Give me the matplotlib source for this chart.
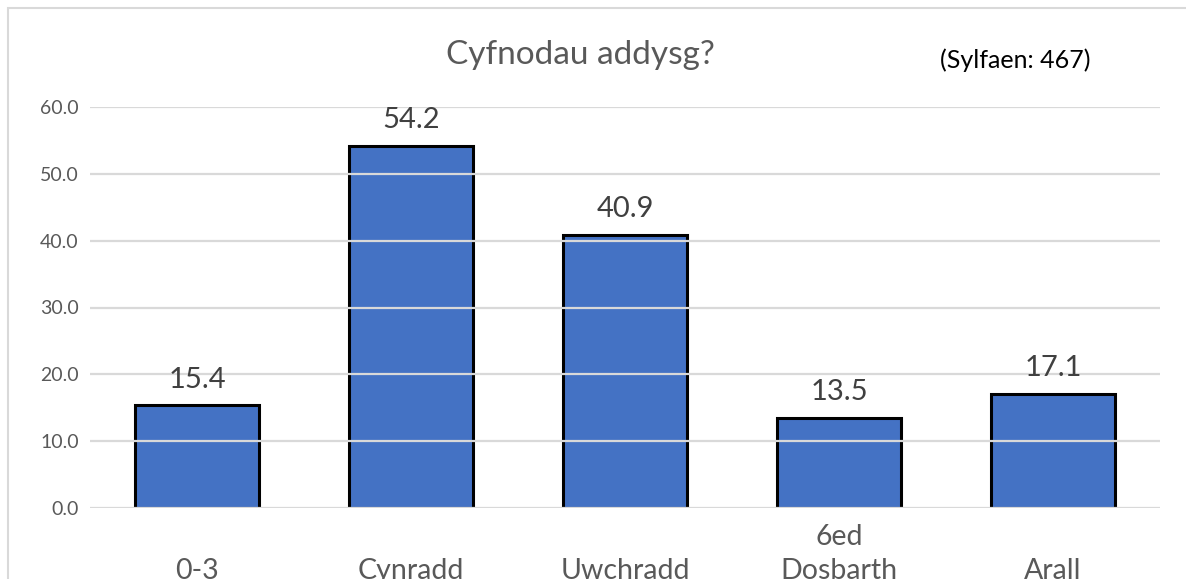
import matplotlib
matplotlib.use("Agg")
import matplotlib.pyplot as plt
from matplotlib.patches import Rectangle
import matplotlib.transforms as mtransforms

categories = ["0-3", "Cynradd", "Uwchradd", "6ed\nDosbarth", "Arall"]
values = [15.4, 54.2, 40.9, 13.5, 17.1]
yticks = [0, 10, 20, 30, 40, 50, 60]
title = "Cyfnodau addysg?"
base_note = "(Sylfaen: 467)"

plt.rcParams['font.family'] = ['Lato', 'DejaVu Sans']
GRAY = "#595959"
BLUE = "#4472C4"
GRID = "#D9D9D9"

W, H = 1186, 579
fig = plt.figure(figsize=(W / 100, H / 100), dpi=100)
fig.patch.set_facecolor("white")

left, right = 90 / W, 1160 / W
bottom, top = 1 - 508 / H, 1 - 107 / H
ax = fig.add_axes([left, bottom, right - left, top - bottom])

x = list(range(len(categories)))
ax.bar(x, values, width=0.58, color=BLUE, edgecolor="black", linewidth=2.2, zorder=1)
ax.set_xlim(-0.5, len(categories) - 0.5)
ax.set_ylim(0, 60)
ax.set_yticks(yticks)
ax.set_yticklabels([f"{v:.1f}" for v in yticks], color=GRAY, fontsize=14)
ax.tick_params(axis='y', length=0, pad=8)
ax.tick_params(axis='x', length=0)
ax.set_xticks(x)
ax.set_xticklabels([])
for s in ax.spines.values():
    s.set_visible(False)
ax.grid(axis='y', color=GRID, linewidth=1.6, zorder=3)
ax.set_axisbelow(False)

for xi, v in zip(x, values):
    ax.annotate(f"{v:.1f}", (xi, v), xytext=(0, 9), textcoords="offset points",
                ha="center", va="bottom", fontsize=21, color="#404040")

trans = mtransforms.blended_transform_factory(ax.transData, ax.transAxes)
for xi, lab in zip(x, categories):
    ax.text(xi, -0.19, lab, transform=trans, ha="center", va="bottom",
            fontsize=20.5, color=GRAY, linespacing=1.38, clip_on=False)

fig.text(580 / W, 1 - 55 / H, title, ha="center", va="center", fontsize=24, color=GRAY)
fig.text(1015 / W, 1 - 60 / H, base_note, ha="center", va="center", fontsize=18, color="black")

fig.add_artist(Rectangle((8 / W, -0.1), 1.2, 1 - 8 / H + 0.1, transform=fig.transFigure,
                         fill=False, edgecolor=GRID, linewidth=1.5))

fig.savefig("out.png", dpi=100)
